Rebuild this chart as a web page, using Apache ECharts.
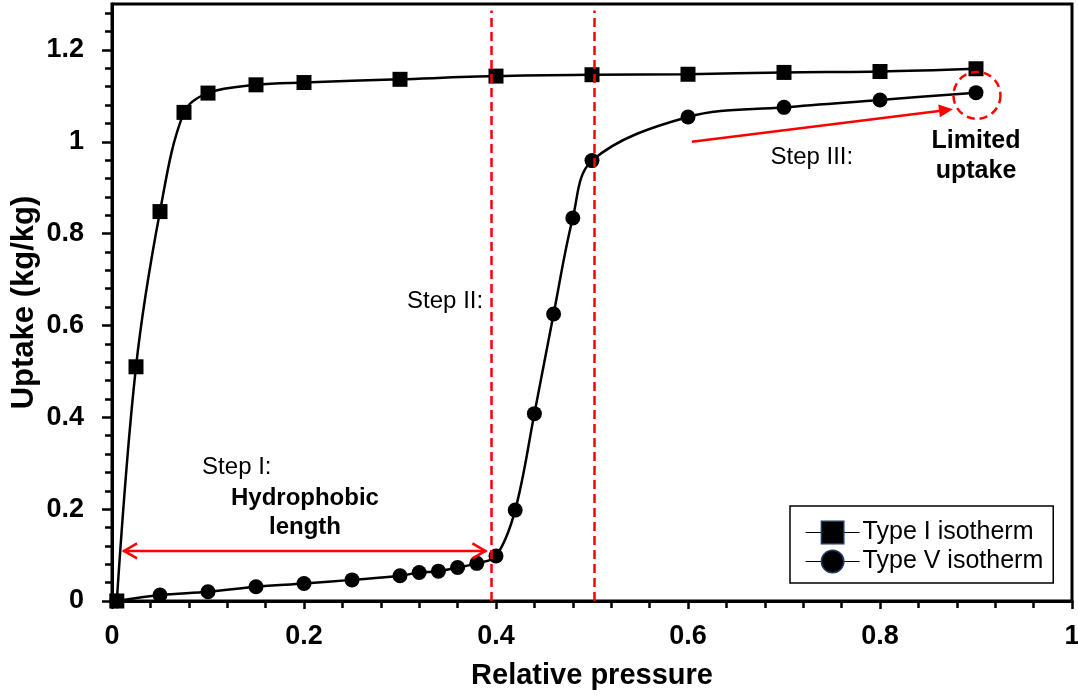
<!DOCTYPE html>
<html>
<head>
<meta charset="utf-8">
<script src="https://cdn.jsdelivr.net/npm/echarts@6/dist/echarts.min.js"></script>
<style>
  html, body { margin: 0; padding: 0; background: #ffffff; }
  #chart { width: 1078px; height: 696px; }
</style>
</head>
<body>
<div id="chart"></div>
<script>
// Relative pressure (x) and uptake in kg/kg (y) for the two isotherm shapes
const pressureTypeI = [0.005, 0.025, 0.05, 0.075, 0.1, 0.15, 0.2, 0.3, 0.4, 0.5, 0.6, 0.7, 0.8, 0.9];
const uptakeTypeI   = [0, 0.51, 0.848, 1.064, 1.106, 1.124, 1.129, 1.136, 1.143, 1.146, 1.147, 1.151, 1.153, 1.159];

const pressureTypeV = [0.005, 0.05, 0.1, 0.15, 0.2, 0.25, 0.3, 0.32, 0.34, 0.36, 0.38, 0.4, 0.42, 0.44, 0.46, 0.48, 0.5, 0.6, 0.7, 0.8, 0.9];
const uptakeTypeV   = [0, 0.013, 0.02, 0.031, 0.038, 0.046, 0.055, 0.062, 0.065, 0.073, 0.082, 0.098, 0.198, 0.408, 0.625, 0.834, 0.959, 1.054, 1.075, 1.091, 1.107];

// Axis ticks
const xTickValues = [0, 0.2, 0.4, 0.6, 0.8, 1];
const yTickValues = [0, 0.2, 0.4, 0.6, 0.8, 1, 1.2];

// Step boundaries (relative pressure)
const stepBoundaries = [0.395, 0.502];

const FONT = '"Liberation Sans", Arial, sans-serif';
const RED = '#ff0000';

const zip = (xs, ys) => xs.map((x, i) => [x, ys[i]]);

const chart = echarts.init(document.getElementById('chart'), null, { renderer: 'canvas' });

const option = {
  animation: false,
  backgroundColor: '#ffffff',
  textStyle: { fontFamily: FONT, color: '#000' },
  grid: {
    left: 112, right: 6, top: 4, bottom: 95,
    outerBoundsMode: 'none', containLabel: false,
    show: true, borderColor: '#000', borderWidth: 3, backgroundColor: 'transparent'
  },
  xAxis: {
    type: 'value', min: 0, max: 1, interval: 0.2,
    name: 'Relative pressure', nameLocation: 'middle', nameGap: 60, nameMoveOverlap: false,
    nameTextStyle: { fontFamily: FONT, fontSize: 29, fontWeight: 'bold', color: '#000' },
    axisLine: { show: true, lineStyle: { color: '#000', width: 3 } },
    axisTick: { show: true, length: 8, lineStyle: { color: '#000', width: 2.5 } },
    minorTick: { show: true, splitNumber: 5, length: 7, lineStyle: { color: '#000', width: 2.5 } },
    splitLine: { show: false },
    axisLabel: {
      margin: 22, fontFamily: FONT, fontSize: 27, fontWeight: 'bold', color: '#000',
      customValues: xTickValues
    }
  },
  yAxis: {
    type: 'value', min: 0, max: 1.3, interval: 0.2,
    name: 'Uptake (kg/kg)', nameLocation: 'middle', nameGap: 72, nameMoveOverlap: false,
    nameTextStyle: { fontFamily: FONT, fontSize: 31, fontWeight: 'bold', color: '#000' },
    axisLine: { show: true, lineStyle: { color: '#000', width: 3 } },
    axisTick: { show: true, length: 10, customValues: yTickValues, lineStyle: { color: '#000', width: 2.5 } },
    minorTick: { show: true, splitNumber: 5, length: 7, lineStyle: { color: '#000', width: 2.5 } },
    splitLine: { show: false },
    axisLabel: {
      margin: 28, fontFamily: FONT, fontSize: 27, fontWeight: 'bold', color: '#000',
      customValues: yTickValues
    }
  },
  legend: {
    orient: 'vertical', left: 790, top: 506,
    padding: [14, 10, 9, 15],
    itemWidth: 54, itemHeight: 28, itemGap: 4,
    backgroundColor: '#fff', borderColor: '#000', borderWidth: 1.5,
    textStyle: { fontFamily: FONT, fontSize: 25, color: '#000', padding: [0, 0, 0, -2] },
    itemStyle: { borderColor: '#1f3a68', borderWidth: 1.5 },
    lineStyle: { width: 1.2, color: '#000' },
    data: ['Type I isotherm', 'Type V isotherm']
  },
  series: [
    {
      name: 'Type I isotherm', type: 'line',
      data: zip(pressureTypeI, uptakeTypeI),
      smooth: 0.35, symbol: 'rect', symbolSize: 15, showAllSymbol: true,
      lineStyle: { color: '#000', width: 2.5 },
      itemStyle: { color: '#000' },
      z: 3
    },
    {
      name: 'Type V isotherm', type: 'line',
      data: zip(pressureTypeV, uptakeTypeV),
      smooth: 0.35, symbol: 'circle', symbolSize: 15, showAllSymbol: true,
      lineStyle: { color: '#000', width: 2.5 },
      itemStyle: { color: '#000' },
      z: 3,
      markLine: {
        silent: true, symbol: 'none', z: 6,
        label: { show: false },
        lineStyle: { color: RED, width: 2.5, type: [9, 5] },
        data: stepBoundaries.map(x => [{ coord: [x, 0] }, { coord: [x, 1.286] }])
      }
    }
  ]
};

chart.setOption(option);

// Annotations placed in data space and converted to pixels
const px = p => chart.convertToPixel({ gridIndex: 0 }, p);

function textItem(text, at, size, bold, align) {
  const p = px(at);
  return {
    type: 'text', z: 20, x: p[0], y: p[1],
    style: {
      text: text, fill: '#000', align: align || 'center', verticalAlign: 'middle',
      font: (bold ? 'bold ' : '') + size + 'px ' + FONT
    }
  };
}

const graphics = [];

// Double-headed arrow: hydrophobic length
const dA = px([0.0115, 0.109]);
const dB = px([0.39, 0.109]);
const redStroke = { stroke: RED, lineWidth: 2.5, fill: null };
graphics.push({ type: 'line', z: 20, shape: { x1: dA[0], y1: dA[1], x2: dB[0], y2: dB[1] }, style: redStroke });
graphics.push({ type: 'polyline', z: 20, shape: { points: [[dA[0] + 14, dA[1] - 7.5], [dA[0] + 1, dA[1]], [dA[0] + 14, dA[1] + 7.5]] }, style: redStroke });
graphics.push({ type: 'polyline', z: 20, shape: { points: [[dB[0] - 14, dB[1] - 7.5], [dB[0] - 1, dB[1]], [dB[0] - 14, dB[1] + 7.5]] }, style: redStroke });

// Arrow pointing at the saturated end of the Type V curve
const aS = px([0.604, 1.0]);
const aE = px([0.876, 1.071]);
const dx = aE[0] - aS[0], dy = aE[1] - aS[1];
const len = Math.hypot(dx, dy);
const ux = dx / len, uy = dy / len;
const headL = 14, headW = 6.5;
const base = [aE[0] - ux * headL, aE[1] - uy * headL];
graphics.push({ type: 'line', z: 20, shape: { x1: aS[0], y1: aS[1], x2: base[0], y2: base[1] }, style: redStroke });
graphics.push({
  type: 'polygon', z: 20,
  shape: { points: [aE, [base[0] - uy * headW, base[1] + ux * headW], [base[0] + uy * headW, base[1] - ux * headW]] },
  style: { fill: RED, stroke: null }
});

// Dashed ring around the last Type V point
const c = px([0.901, 1.101]);
graphics.push({
  type: 'circle', z: 20, shape: { cx: c[0], cy: c[1], r: 23.5 },
  style: { fill: null, stroke: RED, lineWidth: 2.5, lineDash: [8, 5] }
});

// Text labels
graphics.push(textItem('Step I:', [0.13, 0.29], 24, false));
graphics.push(textItem('Hydrophobic', [0.201, 0.224], 24, true));
graphics.push(textItem('length', [0.201, 0.161], 24, true));
graphics.push(textItem('Step II:', [0.347, 0.652], 24, false));
graphics.push(textItem('Step III:', [0.729, 0.965], 24, false));
graphics.push(textItem('Limited', [0.9, 1.002], 25, true));
graphics.push(textItem('uptake', [0.9, 0.937], 25, true));

chart.setOption({ graphic: graphics });
</script>
</body>
</html>
